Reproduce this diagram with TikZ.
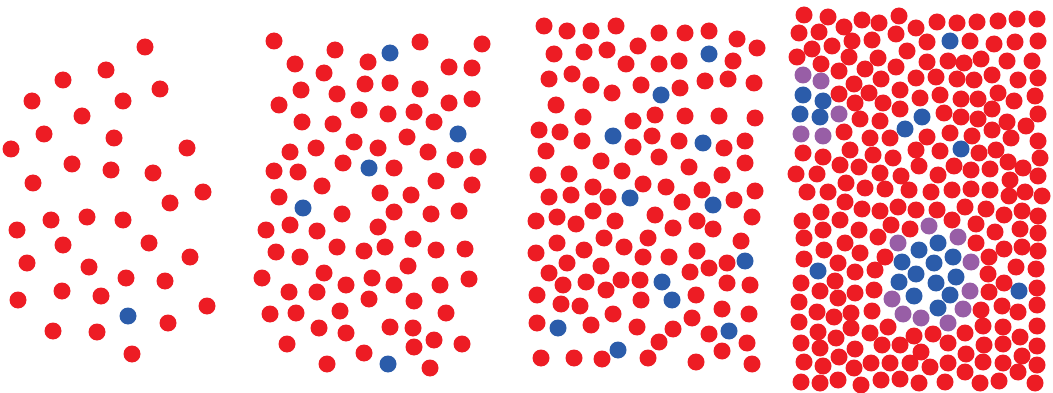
\documentclass[tikz,border=0pt]{standalone}
\definecolor{dotred}{RGB}{237,28,36}
\definecolor{dotblue}{RGB}{43,92,170}
\definecolor{dotpurple}{RGB}{152,94,166}
\tikzset{
  rdot/.style={fill=dotred},
  bdot/.style={fill=dotblue},
  pdot/.style={fill=dotpurple}
}
\begin{document}
\begin{tikzpicture}[x=1pt,y=-1pt]
\useasboundingbox (0,0) rectangle (1053,393);
% ---------- Panel 1 ----------
\foreach \x/\y in {145/47, 106/70, 63/80, 160/89, 32/101, 123/101, 82/116, 44/134, 114/138, 11/149, 187/148, 72/164, 111/170, 153/173, 33/183, 203/192, 170/203, 51/220, 87/217, 123/220, 17/230, 63/245, 149/243, 27/263, 190/257, 89/267, 126/278, 165/281, 18/300, 62/291, 101/296, 207/306, 168/323, 53/331, 97/332, 132/354}
  \fill[rdot] (\x,\y) circle (8.5pt);
\foreach \x/\y in {128/316}
  \fill[bdot] (\x,\y) circle (8.5pt);
% ---------- Panel 2 ----------
\foreach \x/\y in {274/41, 335/50, 420/42, 482/44, 295/64, 368/62, 324/73, 449/67, 472/68, 301/90, 337/94, 365/84, 390/83, 420/89, 279/105, 359/110, 388/114, 414/112, 449/103, 472/99, 302/122, 333/124, 434/122, 407/137, 354/142, 290/152, 316/148, 378/148, 428/152, 455/160, 478/157, 274/171, 298/172, 343/163, 394/168, 322/186, 380/193, 411/195, 436/181, 472/185, 279/197, 342/214, 394/212, 431/214, 459/211, 266/230, 290/225, 317/231, 378/227, 413/239, 276/252, 300/257, 337/247, 364/251, 385/247, 436/250, 465/249, 262/278, 324/273, 346/285, 372/278, 394/285, 408/266, 440/285, 469/279, 289/292, 317/292, 369/299, 414/301, 270/314, 296/313, 340/311, 446/313, 319/328, 346/333, 390/327, 413/328, 434/340, 462/344, 287/344, 364/353, 414/347, 327/364, 430/368}
  \fill[rdot] (\x,\y) circle (8.5pt);
\foreach \x/\y in {390/53, 458/134, 369/168, 303/208, 388/364}
  \fill[bdot] (\x,\y) circle (8.5pt);
% ---------- Panel 3 ----------
\foreach \x/\y in {544/26, 567/31, 591/31, 616/26, 659/33, 685/33, 709/31, 737/39, 757/48, 554/54, 584/52, 607/50, 638/46, 626/64, 659/64, 679/61, 733/61, 549/79, 572/74, 591/85, 612/93, 641/85, 680/88, 705/81, 728/79, 754/83, 556/105, 583/117, 633/121, 655/115, 685/116, 719/116, 755/118, 539/130, 560/132, 652/136, 582/141, 633/147, 679/141, 724/148, 745/141, 546/151, 601/161, 659/157, 622/171, 689/167, 745/163, 538/175, 569/174, 722/175, 643/184, 666/187, 702/190, 755/191, 593/187, 549/197, 571/195, 608/197, 682/202, 734/200, 593/211, 536/221, 557/217, 576/224, 615/221, 655/215, 697/221, 713/229, 752/217, 673/228, 557/243, 604/238, 648/238, 624/247, 741/241, 536/253, 584/250, 643/257, 669/257, 697/251, 567/263, 601/266, 549/273, 690/272, 709/268, 727/263, 563/285, 586/282, 606/290, 621/280, 640/280, 727/283, 750/285, 537/295, 561/304, 580/306, 641/300, 696/295, 613/314, 722/309, 749/314, 537/323, 591/325, 637/327, 673/329, 692/318, 709/334, 747/343, 659/342, 541/358, 574/358, 602/359, 648/358, 722/351, 696/362, 752/364}
  \fill[rdot] (\x,\y) circle (8.5pt);
\foreach \x/\y in {709/54, 661/95, 613/136, 703/143, 630/198, 713/205, 745/261, 662/282, 672/300, 558/328, 729/331, 618/350}
  \fill[bdot] (\x,\y) circle (8.5pt);
% ---------- Panel 4 ----------
\foreach \x/\y in {804/15, 828/17, 844/27, 862/20, 879/23, 899/16, 916/28, 799/33, 819/32, 852/41, 872/40, 896/34, 812/49, 832/46, 797/57, 849/57, 878/58, 907/51, 821/64, 839/71, 865/69, 896/67, 854/84, 881/79, 916/78, 839/94, 869/93, 900/90, 920/98, 855/103, 883/103, 900/109, 860/119, 880/121, 844/132, 870/138, 890/138, 916/150, 803/153, 823/157, 850/150, 873/155, 893/158, 796/174, 817/174, 840/165, 859/167, 880/173, 901/176, 919/166, 807/192, 828/192, 846/183, 865/188, 885/189, 909/190}
  \fill[rdot] (\x,\y) circle (8.5pt);
\foreach \x/\y in {937/22, 957/23, 977/22, 998/21, 1017/19, 1037/19, 927/42, 970/41, 994/44, 1015/42, 1038/41, 927/62, 948/61, 964/63, 981/59, 1007/61, 1032/61, 936/77, 957/79, 974/80, 992/75, 1018/80, 1038/78, 940/95, 961/99, 978/99, 998/93, 1014/101, 1035/96, 944/113, 961/117, 978/119, 992/109, 1007/122, 1026/126, 1038/114, 927/137, 950/133, 972/136, 992/130, 1011/138, 940/151, 979/153, 996/150, 1038/141, 1008/162, 1023/168, 1040/158, 954/166, 971/170, 990/169, 938/175, 1010/180, 1038/176, 931/192, 952/190, 971/189, 990/190, 1009/196, 1025/192, 1042/196}
  \fill[rdot] (\x,\y) circle (8.5pt);
\foreach \x/\y in {845/202, 821/212, 862/209, 880/211, 898/207, 916/210, 802/221, 840/220, 823/230, 859/230, 891/225, 910/229, 804/238, 845/243, 878/237, 824/250, 860/253, 804/259, 885/257, 838/263, 855/272, 875/270, 801/283, 835/281, 820/291, 855/293, 874/290, 799/302, 838/298, 817/312, 851/313, 872/311, 799/322, 834/317, 818/332, 851/328, 870/333, 888/327, 914/336, 801/343, 836/338, 820/348, 855/349, 882/345, 900/345, 921/352, 804/362, 839/357, 823/366, 854/368, 871/363, 890/363, 910/363, 801/382, 820/383, 838/380, 861/385, 881/380, 900/379, 919/383}
  \fill[rdot] (\x,\y) circle (8.5pt);
\foreach \x/\y in {937/210, 965/207, 986/209, 1004/215, 1022/211, 1038/216, 952/220, 976/224, 995/232, 1020/229, 1038/233, 976/243, 1004/249, 1022/247, 1038/251, 989/257, 1016/267, 1036/269, 988/274, 1004/283, 1037/288, 989/292, 1002/306, 1018/312, 1037/305, 981/310, 983/326, 1003/327, 1037/326, 965/333, 933/334, 948/343, 984/345, 1003/344, 1020/337, 1037/346, 966/354, 1022/356, 930/367, 948/363, 983/362, 1003/363, 1037/365, 1018/372, 965/372, 945/382, 980/383, 999/381, 1035/383}
  \fill[rdot] (\x,\y) circle (8.5pt);
\foreach \x/\y in {950/41, 803/95, 823/101, 800/114, 820/117, 905/129, 922/117, 961/149, 818/271, 919/250, 902/262, 916/274, 899/282, 914/296, 938/243, 953/257, 934/263, 956/277, 936/283, 1019/291, 950/295, 938/308}
  \fill[bdot] (\x,\y) circle (8.5pt);
\foreach \x/\y in {803/75, 821/81, 839/114, 801/134, 823/136, 898/243, 892/299, 903/314, 921/318, 929/226, 958/237, 971/262, 970/291, 963/309, 948/323}
  \fill[pdot] (\x,\y) circle (8.5pt);
\end{tikzpicture}
\end{document}
